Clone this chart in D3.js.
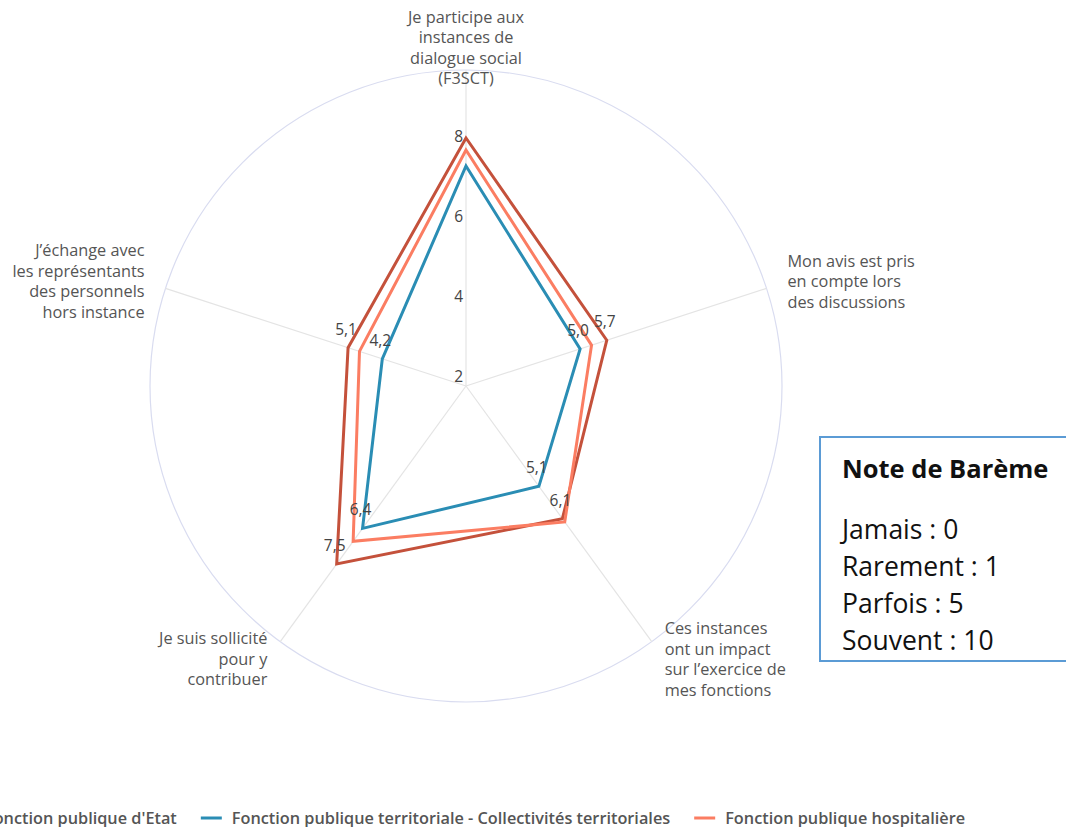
<!DOCTYPE html>
<html>
<head>
<meta charset="utf-8">
<script src="https://cdn.jsdelivr.net/npm/d3@7"></script>
<style>
  body { margin: 0; background: #fff; }
  svg { display: block; }
  .axis-label { font-family: "Open Sans", sans-serif; font-size: 16.3px; fill: #555; }
  .tick-label, .value-label { font-family: "Open Sans", sans-serif; font-size: 15.5px; fill: #444; }
  .legend-text { font-family: "Open Sans", sans-serif; font-size: 16.3px; font-weight: 600; fill: #555; }
  .box-text { font-family: "Open Sans", sans-serif; font-size: 26.5px; fill: #111; }
</style>
</head>
<body>
<svg class="radar"></svg>
<script>
// axes of the radar (each label split in lines)
var axisLabels = [
  ["Je participe aux", "instances de", "dialogue social", "(F3SCT)"],
  ["Mon avis est pris", "en compte lors", "des discussions"],
  ["Ces instances", "ont un impact", "sur l\u2019exercice de", "mes fonctions"],
  ["Je suis sollicit\u00e9", "pour y", "contribuer"],
  ["J\u2019\u00e9change avec", "les repr\u00e9sentants", "des personnels", "hors instance"]
];

// series
var seriesNames = ["Fonction publique d'Etat",
                   "Fonction publique territoriale - Collectivit\u00e9s territoriales",
                   "Fonction publique hospitali\u00e8re"];
var etat = [8.2, 5.7, 6.1, 7.5, 5.1];
var territoriale = [7.5, 5.0, 5.1, 6.4, 4.2];
var hospitaliere = [7.9, 5.3, 6.2, 6.8, 4.8];
var seriesColors = ["#c4513b", "#2a8db4", "#fb7d62"];
// which series get value labels
var labelled = [true, true, false];

var tickValues = [2, 4, 6, 8];
var minValue = 2, maxValue = 9.9;

// scoring box
var boxTitle = "Note de Bar\u00e8me";
var boxLines = ["Jamais : 0", "Rarement : 1", "Parfois : 5", "Souvent : 10"];

var width = 1066, height = 827,
    cx = 466, cy = 386,
    radius = 316;

var svg = d3.select(".radar")
    .attr("width", width)
    .attr("height", height);

var r = d3.scaleLinear().domain([minValue, maxValue]).range([0, radius]);
var angle = d3.scaleLinear().domain([0, axisLabels.length]).range([0, 2 * Math.PI]);

var chart = svg.append("g")
    .attr("transform", "translate(" + cx + "," + cy + ")");

function px(i, v) { return Math.sin(angle(i)) * r(v); }
function py(i, v) { return -Math.cos(angle(i)) * r(v); }

// outer circle
chart.append("circle")
    .attr("r", r(maxValue))
    .attr("fill", "none")
    .attr("stroke", "#d9dcf0")
    .attr("stroke-width", 1.2);

// spokes
chart.selectAll(".spoke")
    .data(axisLabels)
  .enter().append("line")
    .attr("class", "spoke")
    .attr("x1", 0).attr("y1", 0)
    .attr("x2", function(d, i) { return px(i, maxValue); })
    .attr("y2", function(d, i) { return py(i, maxValue); })
    .attr("stroke", "#e4e4e4")
    .attr("stroke-width", 1.2);

// tick labels along the top axis
chart.selectAll(".tick-label")
    .data(tickValues)
  .enter().append("text")
    .attr("class", "tick-label")
    .attr("x", -3)
    .attr("y", function(d) { return -r(d) - 4; })
    .style("text-anchor", "end")
    .text(function(d) { return d; });

// axis labels
var lineH = 20.5;
axisLabels.forEach(function(lines, i) {
  var x = px(i, maxValue) * (radius + 22) / radius,
      y = py(i, maxValue) * (radius + 22) / radius;
  var anchor = x > 1 ? "start" : (x < -1 ? "end" : "middle");
  var t = chart.append("text")
      .attr("class", "axis-label")
      .style("text-anchor", anchor);
  lines.forEach(function(l, j) {
    t.append("tspan")
      .attr("x", x)
      .attr("y", y + (j - (lines.length - 1) / 2) * lineH + 5.5)
      .text(l);
  });
});

// series polygons
var allSeries = [etat, territoriale, hospitaliere];
var line = d3.line()
    .x(function(d, i) { return px(i, d); })
    .y(function(d, i) { return py(i, d); })
    .curve(d3.curveLinearClosed);

allSeries.forEach(function(values, s) {
  chart.append("path")
    .datum(values)
    .attr("d", line)
    .attr("fill", "none")
    .attr("stroke", seriesColors[s])
    .attr("stroke-width", 3)
    .attr("stroke-linejoin", "miter");
});

// value labels (the top axis is left to the tick labels)
allSeries.forEach(function(values, s) {
  if (!labelled[s]) return;
  chart.selectAll(".vl" + s)
      .data(values.slice(1))
    .enter().append("text")
      .attr("class", "value-label")
      .attr("x", function(d, i) { return px(i + 1, d) - 2; })
      .attr("y", function(d, i) { return py(i + 1, d) - 13; })
      .style("text-anchor", "middle")
      .text(function(d) { return d3.format(".1f")(d).replace(".", ","); });
});

// legend at the bottom (starts partly outside, like the source)
var legend = svg.append("g").attr("transform", "translate(0,818)");
var lx = -46;
seriesNames.forEach(function(name, s) {
  legend.append("line")
    .attr("x1", lx).attr("x2", lx + 21)
    .attr("y1", 0).attr("y2", 0)
    .attr("stroke", seriesColors[s])
    .attr("stroke-width", 3);
  var t = legend.append("text")
    .attr("class", "legend-text")
    .attr("x", lx + 31)
    .attr("y", 5.5)
    .text(name);
  lx = lx + 31 + t.node().getComputedTextLength() + 24;
});

// scoring box
var box = svg.append("g").attr("transform", "translate(820,437)");
box.append("rect")
    .attr("width", 260)
    .attr("height", 224)
    .attr("fill", "#fff")
    .attr("stroke", "#5b9bd5")
    .attr("stroke-width", 2);
box.append("text")
    .attr("class", "box-text")
    .attr("x", 22)
    .attr("y", 41)
    .style("font-weight", "bold")
    .style("font-size", "25.5px")
    .text(boxTitle);
box.selectAll(".box-line")
    .data(boxLines)
  .enter().append("text")
    .attr("class", "box-text box-line")
    .attr("x", 22)
    .attr("y", function(d, i) { return 102 + i * 37; })
    .text(function(d) { return d; });
</script>
</body>
</html>
